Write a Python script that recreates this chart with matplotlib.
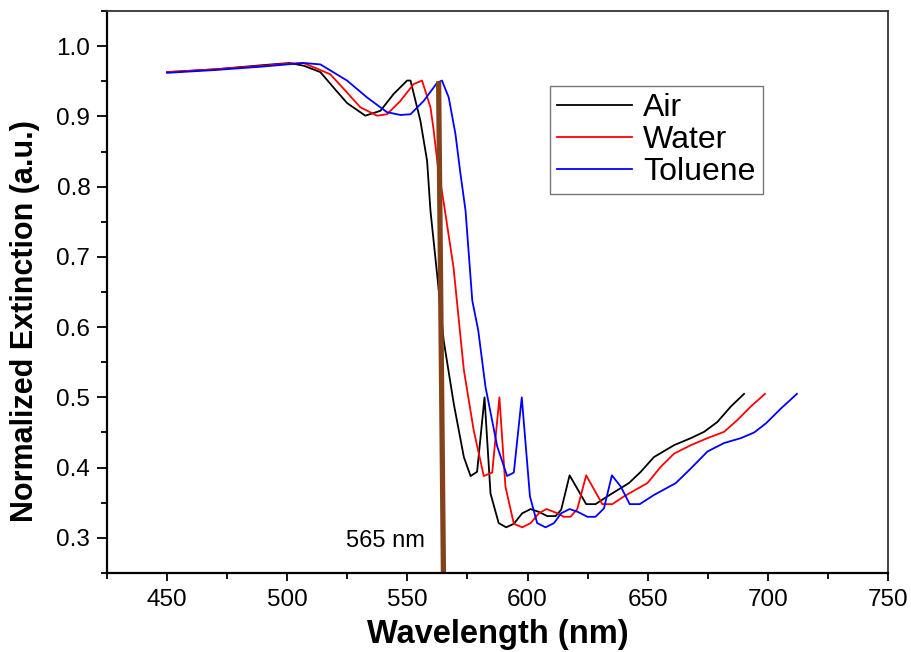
import matplotlib
matplotlib.use("Agg")
import matplotlib.pyplot as plt
from matplotlib.ticker import MultipleLocator

plt.rcParams['font.family'] = ['Liberation Sans', 'DejaVu Sans']

# Air
air_x = [450, 470, 490, 501, 507, 513.8, 519.3, 524.9, 532.5, 538.8, 544.3, 549.9, 551.3,
         555.4, 558.2, 559.6, 562.5, 565.1, 569.3, 573.5, 576.3, 579, 582.1, 584.6, 588,
         591.1, 594.3, 597.8, 601.3, 604.7, 608.2, 611.7, 614, 617.5, 624.4, 628.3, 633.2,
         642.2, 647.1, 652.6, 661, 668, 673.5, 679, 684.6, 690.1]
air_y = [0.963, 0.967, 0.973, 0.976, 0.972, 0.963, 0.941, 0.919, 0.901, 0.908, 0.932, 0.951, 0.951,
         0.894, 0.837, 0.766, 0.671, 0.581, 0.491, 0.415, 0.388, 0.394, 0.500, 0.363, 0.321,
         0.315, 0.320, 0.335, 0.341, 0.337, 0.331, 0.331, 0.340, 0.389, 0.348, 0.348, 0.359,
         0.378, 0.394, 0.415, 0.432, 0.442, 0.451, 0.465, 0.487, 0.505]

# Water
water_x = [450, 470, 490, 500, 506.8, 517.9, 524.9, 530.4, 537.4, 541.5, 547.1, 552.6, 556.1,
           559.6, 560.8, 562.9, 565, 569.2, 571.7, 573.5, 577.6, 581.8, 585.3, 588.3, 590.8,
           594.3, 597.8, 601.3, 604.7, 607.9, 611.7, 615.1, 617.9, 620.7, 624.4, 631.1, 635.3,
           640.1, 649.9, 655.4, 661, 668, 674.9, 681.8, 687.4, 692.9, 698.8]
water_y = [0.963, 0.967, 0.972, 0.975, 0.976, 0.960, 0.934, 0.913, 0.901, 0.903, 0.922, 0.946, 0.951,
           0.913, 0.884, 0.823, 0.780, 0.685, 0.600, 0.539, 0.453, 0.388, 0.393, 0.500, 0.373,
           0.320, 0.315, 0.321, 0.335, 0.341, 0.336, 0.330, 0.330, 0.341, 0.389, 0.348, 0.348,
           0.359, 0.378, 0.401, 0.420, 0.432, 0.442, 0.451, 0.468, 0.487, 0.505]

# Toluene
tol_x = [450, 470, 490, 500, 506.8, 513.8, 524.9, 533.2, 541.5, 547.1, 551.3, 556.8, 562.4,
         564.4, 567.2, 570, 572.1, 574.2, 577, 579.5, 582.5, 587.4, 591.5, 594.3, 597.6, 601,
         604, 607.5, 611, 614, 617.5, 620.9, 624.9, 628.3, 631.8, 635.1, 638.8, 642.5, 646.7,
         652.6, 661.7, 668, 674.9, 681.8, 688.8, 694.3, 699.2, 705.4, 712.1]
tol_y = [0.962, 0.966, 0.971, 0.974, 0.976, 0.974, 0.951, 0.927, 0.906, 0.902, 0.903, 0.922, 0.948,
         0.951, 0.927, 0.875, 0.818, 0.766, 0.638, 0.595, 0.515, 0.430, 0.388, 0.393, 0.500, 0.359,
         0.321, 0.315, 0.321, 0.335, 0.341, 0.337, 0.330, 0.330, 0.342, 0.389, 0.373, 0.348, 0.348,
         0.361, 0.378, 0.399, 0.423, 0.435, 0.442, 0.450, 0.463, 0.484, 0.505]

# 565 nm marker line (slightly tilted in the original)
marker_x = [563, 565]
marker_y = [0.95, 0.25]

fig = plt.figure(figsize=(9.12, 6.52), dpi=100)
ax = fig.add_axes([0.1173, 0.1212, 0.8564, 0.8619])

ax.plot(air_x, air_y, color='black', lw=1.3, label='Air')
ax.plot(water_x, water_y, color='red', lw=1.3, label='Water')
ax.plot(tol_x, tol_y, color='blue', lw=1.3, label='Toluene')
ax.plot(marker_x, marker_y, color='#84421a', lw=3.8, solid_capstyle='butt')
ax.text(541, 0.296, '565 nm', fontsize=17, ha='center', va='center')

ax.set_xlim(425, 750)
ax.set_ylim(0.25, 1.05)
ax.xaxis.set_major_locator(MultipleLocator(50))
ax.xaxis.set_minor_locator(MultipleLocator(25))
ax.yaxis.set_major_locator(MultipleLocator(0.1))
ax.yaxis.set_minor_locator(MultipleLocator(0.05))
ax.tick_params(which='both', direction='out', labelsize=17.5, width=1.3)
ax.tick_params(axis='y', which='major', length=7, pad=5)
ax.tick_params(axis='x', which='major', length=5.5, pad=6)
ax.tick_params(which='minor', length=4)

for side in ['left', 'bottom']:
    ax.spines[side].set_linewidth(1.6)
for side in ['top', 'right']:
    ax.spines[side].set_linewidth(1.3)
    ax.spines[side].set_color('#333333')

ax.set_xlabel('Wavelength (nm)', fontsize=23.5, fontweight='bold', labelpad=6)
ax.set_ylabel('Normalized Extinction (a.u.)', fontsize=22, fontweight='bold')
ax.yaxis.set_label_coords(-0.0858, 0.448)

leg = ax.legend(loc='upper left', bbox_to_anchor=(0.567, 0.8665), fontsize=23,
                frameon=True, fancybox=False, handlelength=2.35, labelspacing=0.06,
                borderpad=0.22, handletextpad=0.35, borderaxespad=0)
leg.get_frame().set_edgecolor('#555555')
leg.get_frame().set_linewidth(1.0)

fig.savefig('out.png', dpi=100)
